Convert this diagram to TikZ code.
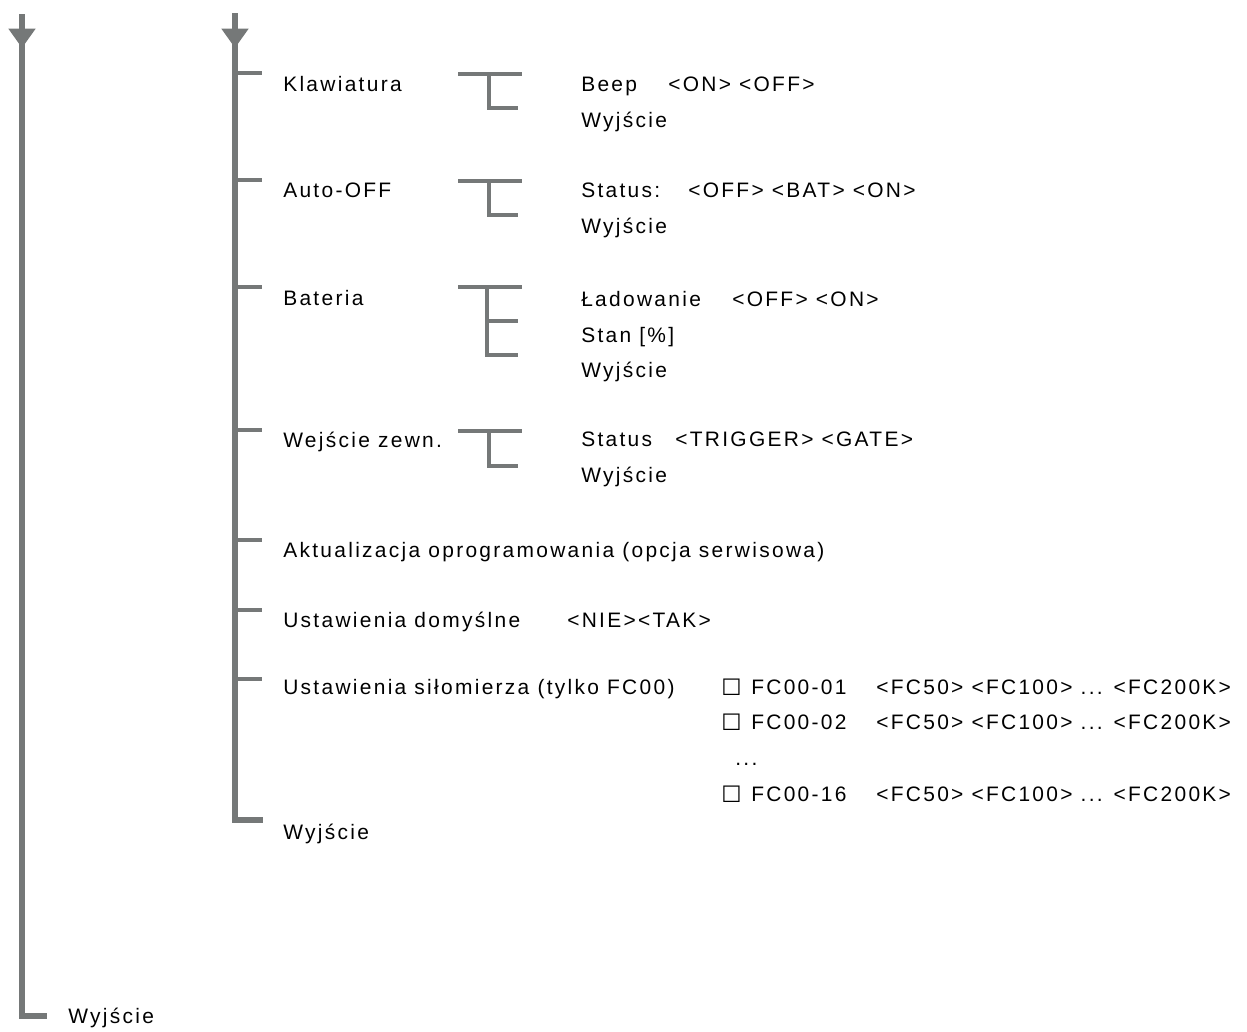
\documentclass[tikz,border=0pt]{standalone}
\usepackage{fontspec}
\setmainfont{Liberation Sans}[LetterSpace=11]
\newfontfamily\boxfont{DejaVu Sans}
\usepackage{tikz}
\usetikzlibrary{arrows.meta}
\definecolor{treegray}{RGB}{117,120,120}

\begin{document}
\begin{tikzpicture}[x=0.75pt, y=-0.75pt,
    lbl/.style={anchor=base west, inner sep=0pt, font=\fontsize{15.7}{18}\selectfont},
    trunk/.style={draw=treegray, line width=4.5pt, line join=miter},
    tick/.style={draw=treegray, line width=3.7pt},
    brk/.style={draw=treegray, line width=3.4pt},
    arr/.style={-{Triangle[width=19.5pt, length=14.5pt]}, draw=treegray, fill=treegray, line width=4.5pt}
  ]
  \useasboundingbox (0,0) rectangle (1247,1032);

  % Outer trunk (main menu level).
  \coordinate (o0) at (22,14);
  \coordinate (otip) at (22,48);
  \coordinate (oend) at (47,1016);
  \draw[trunk] (o0) |- (oend);
  \draw[arr] (o0) -- (otip);
  \node[lbl] (wyjA) at (68,1023) {Wyjście};

  % Inner trunk (settings submenu).
  \coordinate (i0) at (235,13);
  \coordinate (itip) at (235,48);
  \coordinate (iend) at (263,820);
  \draw[trunk] (i0) |- (iend);
  \draw[arr] (i0) -- (itip);

  % Branches of the submenu.
  \foreach \y in {73,180,287,430,540,610,679}
    \draw[tick] (235,\y) -- (262,\y);

  \node[lbl] (klaw) at (283,91)  {Klawiatura};
  \node[lbl] (aoff) at (283,197) {Auto-OFF};
  \node[lbl] (bat)  at (283,305) {Bateria};
  \node[lbl] (wej)  at (283,447) {Wejście zewn.};
  \node[lbl] (akt)  at (283,557) {Aktualizacja oprogramowania (opcja serwisowa)};
  \node[lbl] (dom)  at (283,627) {Ustawienia domyślne};
  \node[lbl] (domv) at (567,627) {<NIE><TAK>};
  \node[lbl] (sil)  at (283,694) {Ustawienia siłomierza (tylko FC00)};
  \node[lbl] (wyjB) at (283,839) {Wyjście};

  % Third level brackets.
  \draw[brk] (458,74) -- (522,74);
  \draw[brk] (489,74) |- (518,108);
  \draw[brk] (458,181) -- (522,181);
  \draw[brk] (489,181) |- (518,215);
  \draw[brk] (458,287) -- (522,287);
  \draw[brk] (487,287) |- (518,355);
  \draw[brk] (487,321) -- (518,321);
  \draw[brk] (458,431) -- (522,431);
  \draw[brk] (489,431) |- (518,466);

  % Klawiatura
  \node[lbl] (beep)  at (581,91)  {Beep};
  \node[lbl] (beepv) at (668,91)  {<ON> <OFF>};
  \node[lbl] (kwyj)  at (581,127) {Wyjście};
  % Auto-OFF
  \node[lbl] (ast)   at (581,197) {Status:};
  \node[lbl] (astv)  at (688,197) {<OFF> <BAT> <ON>};
  \node[lbl] (awyj)  at (581,233) {Wyjście};
  % Bateria
  \node[lbl] (lad)   at (581,306) {Ładowanie};
  \node[lbl] (ladv)  at (732,306) {<OFF> <ON>};
  \node[lbl] (stan)  at (581,342) {Stan [\%]};
  \node[lbl] (bwyj)  at (581,377) {Wyjście};
  % Wejscie zewn.
  \node[lbl] (wst)   at (581,446) {Status};
  \node[lbl] (wstv)  at (675,446) {<TRIGGER> <GATE>};
  \node[lbl] (wwyj)  at (581,482) {Wyjście};

  % Force gauge list.
  \foreach \r/\yy in {01/694,02/729,16/801} {
    \node[lbl, font=\boxfont\fontsize{17}{19}\selectfont] (box\r) at (721,\yy+1) {☐};
    \node[lbl] (fc\r) at (751,\yy) {FC00-\r};
    \node[lbl] (fcv\r) at (876,\yy) {<FC50> <FC100> ... <FC200K>};
  }
  \node[lbl] (fcdots) at (735,765) {...};
\end{tikzpicture}
\end{document}
